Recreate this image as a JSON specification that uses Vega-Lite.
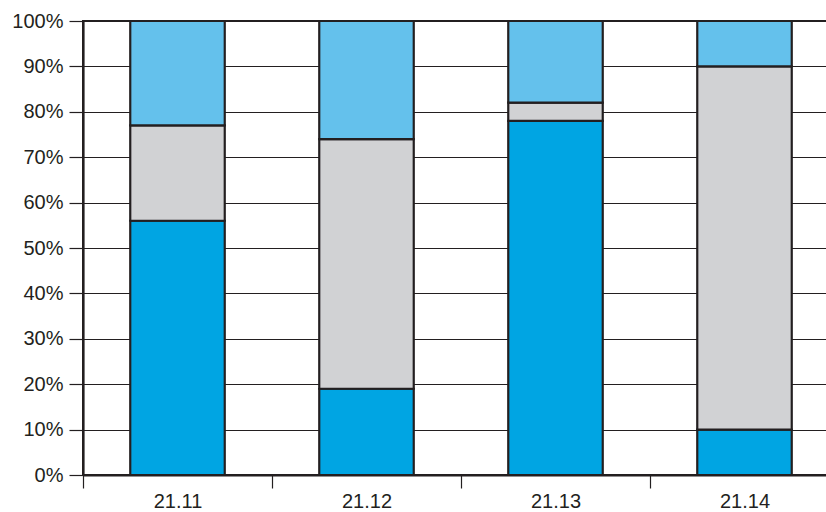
{
  "$schema": "https://vega.github.io/schema/vega-lite/v6.json",
  "width": 756,
  "height": 454,
  "autosize": {"type": "none"},
  "padding": {"left": 83, "top": 21, "right": 0, "bottom": 37},
  "background": "white",
  "config": {
    "view": {"stroke": "#231f20", "strokeWidth": 2},
    "font": "Liberation Sans"
  },
  "data": {
    "values": [
      {"period": "21.11", "series": "A", "ord": 1, "value": 56},
      {"period": "21.11", "series": "B", "ord": 2, "value": 21},
      {"period": "21.11", "series": "C", "ord": 3, "value": 23},
      {"period": "21.12", "series": "A", "ord": 1, "value": 19},
      {"period": "21.12", "series": "B", "ord": 2, "value": 55},
      {"period": "21.12", "series": "C", "ord": 3, "value": 26},
      {"period": "21.13", "series": "A", "ord": 1, "value": 78},
      {"period": "21.13", "series": "B", "ord": 2, "value": 4},
      {"period": "21.13", "series": "C", "ord": 3, "value": 18},
      {"period": "21.14", "series": "A", "ord": 1, "value": 10},
      {"period": "21.14", "series": "B", "ord": 2, "value": 80},
      {"period": "21.14", "series": "C", "ord": 3, "value": 10}
    ]
  },
  "mark": {"type": "bar", "stroke": "#231f20", "strokeWidth": 2.2, "width": {"band": 0.5}},
  "encoding": {
    "x": {
      "field": "period",
      "type": "nominal",
      "scale": {"paddingInner": 0, "paddingOuter": 0},
      "axis": {
        "title": null,
        "labelAngle": 0,
        "tickBand": "extent",
        "tickSize": 13,
        "tickColor": "#231f20",
        "tickWidth": 1.2,
        "domainColor": "#231f20",
        "domainWidth": 2.2,
        "labelFont": "Liberation Sans",
        "labelFontSize": 20,
        "labelColor": "#231f20",
        "labelPadding": 3
      }
    },
    "y": {
      "field": "value",
      "type": "quantitative",
      "stack": "zero",
      "scale": {"domain": [0, 100], "nice": false},
      "axis": {
        "title": null,
        "values": [0, 10, 20, 30, 40, 50, 60, 70, 80, 90, 100],
        "labelExpr": "datum.value + '%'",
        "grid": true,
        "gridColor": "#231f20",
        "gridWidth": 1.2,
        "gridOpacity": 1,
        "tickSize": 14,
        "tickColor": "#231f20",
        "tickWidth": 1.2,
        "domainColor": "#231f20",
        "domainWidth": 2.2,
        "labelFont": "Liberation Sans",
        "labelFontSize": 20,
        "labelColor": "#231f20",
        "labelPadding": 6
      }
    },
    "color": {
      "field": "series",
      "type": "nominal",
      "scale": {"domain": ["A", "B", "C"], "range": ["#00a5e3", "#d1d2d4", "#64c1ec"]},
      "legend": null
    },
    "order": {"field": "ord", "type": "quantitative"}
  }
}
